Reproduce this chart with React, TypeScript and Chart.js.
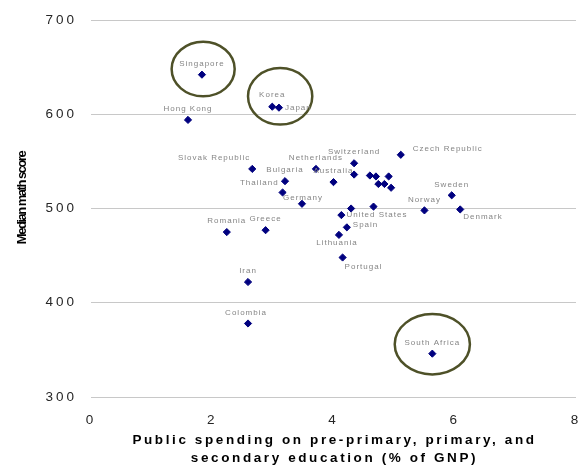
import { useEffect, useRef } from "react";
import { Chart, registerables } from "chart.js";

Chart.register(...registerables);

// Countries in plotting order; a blank name is plotted without a label.
const countries = [
  "Singapore", "Hong Kong", "Korea", "Japan", "Slovak Republic", "Netherlands",
  "Bulgaria", "Thailand", "Australia", "Germany", "Switzerland", "Czech Republic",
  "", "", "", "", "", "", "", "Sweden", "", "", "Norway", "Denmark",
  "United States", "Spain", "Romania", "Greece", "Lithuania", "Portugal",
  "Iran", "Colombia", "South Africa",
];
const spendingPctGnp = [
  1.83, 1.6, 2.99, 3.1, 2.66, 3.71,
  3.2, 3.16, 4.0, 3.48, 4.34, 5.11,
  4.34, 4.6, 4.7, 4.91, 4.74, 4.84, 4.95, 5.95, 4.29, 4.66, 5.5, 6.09,
  4.13, 4.22, 2.24, 2.88, 4.09, 4.15,
  2.59, 2.59, 5.63,
];
const medianMathScore = [
  642, 594, 608, 607, 542, 542,
  529, 517, 528, 505, 548, 557,
  536, 535, 534, 534, 526, 526, 522, 514, 500, 502, 498, 499,
  493, 480, 475, 477, 472, 448,
  422, 378, 346,
];

const xMin = 0;
const xMax = 8;
const xStep = 2;
const yMin = 300;
const yMax = 700;
const yStep = 100;

const xAxisTitle = ["Public spending on pre-primary, primary, and", "secondary education (% of GNP)"];
const yAxisTitle = "Median math score";

// Rings drawn around the highlighted countries (centre and radii in axis units)
const ringCentreX = [1.85, 3.12, 5.63];
const ringCentreY = [648, 619, 356];
const ringRadiusX = [0.52, 0.53, 0.62];
const ringRadiusY = [29, 30, 32];

// Where each country name sits relative to its marker: [dx, dy, align]
const labelPlacement: Record<string, [number, number, CanvasTextAlign]> = {
  Korea: [0, -12, "center"],
  Japan: [6, 0, "left"],
  "Slovak Republic": [-2, -11, "right"],
  Thailand: [-4, -10, "right"],
  Germany: [1, -6, "center"],
  "Czech Republic": [12, -6, "left"],
  Denmark: [3, 7, "left"],
  "United States": [5, 0, "left"],
  Spain: [6, -3, "left"],
  Lithuania: [-2, 8, "center"],
  Portugal: [2, 9, "left"],
  Colombia: [-2, -11, "center"],
};

const FONT = "'Liberation Sans', Arial, sans-serif";

const tickSpacing = {
  id: "tickSpacing",
  beforeDraw(chart: Chart) {
    (chart.ctx as any).letterSpacing = "3px";
  },
};

const rings = {
  id: "rings",
  afterDatasetsDraw(chart: Chart) {
    const { ctx, scales } = chart;
    const xs = scales.x;
    const ys = scales.y;
    ctx.save();
    ctx.strokeStyle = "#4e5128";
    ctx.lineWidth = 2.5;
    ringCentreX.forEach((cx, i) => {
      const px = xs.getPixelForValue(cx);
      const py = ys.getPixelForValue(ringCentreY[i]);
      const rx = Math.abs(xs.getPixelForValue(cx + ringRadiusX[i]) - px);
      const ry = Math.abs(ys.getPixelForValue(ringCentreY[i] + ringRadiusY[i]) - py);
      ctx.beginPath();
      ctx.ellipse(px, py, rx, ry, 0, 0, Math.PI * 2);
      ctx.stroke();
    });
    ctx.restore();
  },
};

const countryLabels = {
  id: "countryLabels",
  afterDatasetsDraw(chart: Chart) {
    const { ctx } = chart;
    const meta = chart.getDatasetMeta(0);
    ctx.save();
    (ctx as any).letterSpacing = "1px";
    ctx.font = `8px ${FONT}`;
    ctx.fillStyle = "#858585";
    ctx.textBaseline = "middle";
    meta.data.forEach((pt, i) => {
      const name = countries[i];
      if (!name) return;
      const [dx, dy, align] = labelPlacement[name] ?? [0, -11, "center"];
      ctx.textAlign = align;
      ctx.fillText(name, pt.x + dx, pt.y + dy);
    });
    ctx.restore();
  },
};

const axisTitles = {
  id: "axisTitles",
  afterDraw(chart: Chart) {
    const { ctx, chartArea } = chart;
    ctx.save();
    ctx.fillStyle = "#000000";
    ctx.textBaseline = "middle";
    ctx.textAlign = "center";
    ctx.font = `bold 13.5px ${FONT}`;
    (ctx as any).letterSpacing = "2.6px";
    const cx = (chartArea.left + chartArea.right) / 2 + 1;
    xAxisTitle.forEach((line, i) => {
      ctx.fillText(line, cx, 440 + i * 18);
    });
    ctx.font = `bold 13px ${FONT}`;
    (ctx as any).letterSpacing = "-1.5px";
    ctx.translate(22, 198);
    ctx.rotate(-Math.PI / 2);
    ctx.fillText(yAxisTitle, 0, 0);
    ctx.restore();
  },
};

export default function App() {
  const canvasRef = useRef<HTMLCanvasElement | null>(null);

  useEffect(() => {
    const canvas = canvasRef.current;
    if (!canvas) return;
    const chart = new Chart(canvas, {
      type: "scatter",
      data: {
        datasets: [
          {
            data: spendingPctGnp.map((x, i) => ({ x, y: medianMathScore[i] })),
            pointStyle: "rectRot",
            pointRadius: 3.6,
            backgroundColor: "#00007f",
            borderColor: "#00007f",
            borderWidth: 1,
          },
        ],
      },
      options: {
        animation: false,
        responsive: false,
        layout: { padding: { left: 0, right: 10, top: 20, bottom: 0 } },
        plugins: {
          legend: { display: false },
          tooltip: { enabled: false },
        },
        scales: {
          x: {
            type: "linear",
            min: xMin,
            max: xMax,
            afterFit: (scale: any) => {
              scale.height = 68;
              scale.paddingLeft = 0;
              scale.paddingRight = 0;
            },
            ticks: {
              stepSize: xStep,
              color: "#262626",
              font: { family: FONT, size: 13.5 },
              padding: 15,
            },
            grid: { display: false, drawTicks: false },
            border: { display: false },
          },
          y: {
            type: "linear",
            min: yMin,
            max: yMax,
            afterFit: (scale: any) => {
              scale.width = 91;
              scale.paddingTop = 0;
              scale.paddingBottom = 0;
            },
            ticks: {
              stepSize: yStep,
              color: "#262626",
              font: { family: FONT, size: 13.5 },
              padding: 14,
            },
            grid: { color: "#c8c8c8", lineWidth: 1, drawTicks: false },
            border: { display: false },
          },
        },
      },
      plugins: [tickSpacing, rings, countryLabels, axisTitles],
    });
    return () => chart.destroy();
  }, []);

  return (
    <div style={{ position: "absolute", left: 0, top: 0, width: 586, height: 465, background: "#ffffff" }}>
      <canvas ref={canvasRef} width={586} height={465} />
    </div>
  );
}
